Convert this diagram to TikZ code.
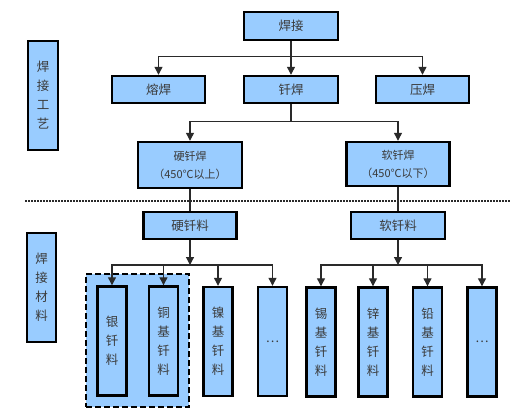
\documentclass[tikz,border=0pt]{standalone}
\usepackage{fontspec}
\setmainfont{Noto Sans CJK SC}
\usetikzlibrary{arrows.meta}
\definecolor{boxblue}{HTML}{99CCFF}
\definecolor{txt}{HTML}{3A3A3A}
\definecolor{ln}{HTML}{2A2A2A}
\tikzset{
  box/.style={draw=black, line width=2.4pt, fill=boxblue, inner sep=0pt, text=txt,
    font=\fontsize{12.5}{19}\selectfont, align=center},
  hbox/.style={box, minimum width=93pt, minimum height=27pt},
  vbox/.style={box, minimum width=29pt, minimum height=109pt},
  conn/.style={draw=ln, line width=1.2pt},
  arr/.style={conn, -{Triangle[length=8pt,width=8pt]}},
  grp/.style={draw=black, dash pattern=on 6pt off 3pt, line width=2.4pt, fill=boxblue}
}
\begin{document}
\begin{tikzpicture}[x=1pt,y=-1pt]
\useasboundingbox (0,0) rectangle (521,411);
% top section
\node[hbox, minimum width=94pt, minimum height=28pt] (hj) at (291,26) {焊接};
\node[hbox] (rh) at (158.5,89.5) {熔焊};
\node[hbox, minimum width=94pt] (qh) at (291,89.5) {钎焊};
\node[hbox] (yh) at (422.5,89.5) {压焊};
\node[vbox, minimum width=30pt] (s1) at (43,95.5) {焊\\接\\工\\艺};
\node[box, minimum width=104pt, minimum height=46pt, font=\fontsize{11}{18}\selectfont] (yqh) at (190,165) {硬钎焊\\（450℃以上）};
\node[box, minimum width=103pt, minimum height=44pt, font=\fontsize{11}{18}\selectfont] (rqh) at (398,164) {软钎焊\\（450℃以下）};
\draw[arr] (hj.south) -- ++(0,15) -| (rh.north);
\draw[arr] (hj.south) -- (qh.north);
\draw[arr] (hj.south) -- ++(0,15) -| (yh.north);
\draw[arr] (qh.south) -- ++(0,17) -| (yqh.north);
\draw[arr] (qh.south) -- ++(0,17) -| (rqh.north);
% divider
\coordinate (dl) at (25,201);
\coordinate (dr) at (510,201);
\draw[ln, line width=1.2pt, dash pattern=on 2pt off 1pt] (dl) -- (dr);
% bottom section
\node[hbox] (yql) at (190,225.5) {硬钎料};
\node[hbox, minimum width=94pt] (rql) at (398,225.5) {软钎料};
\node[vbox] (s2) at (41.5,287.5) {焊\\接\\材\\料};
\draw[conn] (yqh.south) -- (yql.north);
\draw[conn] (rqh.south) -- (rql.north);
\node[grp, minimum width=103pt, minimum height=133pt, inner sep=0pt] (g) at (137.5,340.5) {};
\node[vbox] (b1) at (112,341) {银\\钎\\料};
\node[vbox] (b2) at (163.5,341) {铜\\基\\钎\\料};
\node[vbox] (b3) at (218,341.5) {镍\\基\\钎\\料};
\node[vbox] (b4) at (272.5,341.5) {…};
\node[vbox] (b5) at (321,342) {锡\\基\\钎\\料};
\node[vbox] (b6) at (373,342) {锌\\基\\钎\\料};
\node[vbox] (b7) at (427.5,342) {铅\\基\\钎\\料};
\node[vbox] (b8) at (482,342) {…};
\coordinate (j1) at (190,265);
\coordinate (j2) at (398,265);
\draw[arr] (yql.south) -- (j1);
\draw[arr] (rql.south) -- (j2);
\draw[arr] (j1) -| (b1.north);
\draw[arr] (j1) -| (b2.north);
\draw[arr] (j1) -| (b3.north);
\draw[arr] (j1) -| (b4.north);
\draw[arr] (j2) -| (b5.north);
\draw[arr] (j2) -| (b6.north);
\draw[arr] (j2) -| (b7.north);
\draw[arr] (j2) -| (b8.north);
\end{tikzpicture}
\end{document}
